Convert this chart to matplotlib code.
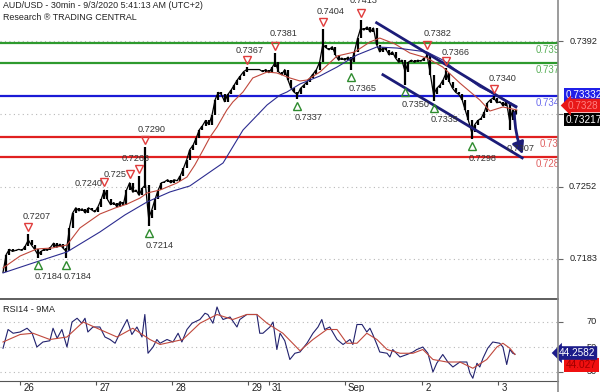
import matplotlib
matplotlib.use('Agg')
import matplotlib.pyplot as plt
from matplotlib.lines import Line2D
from matplotlib.transforms import ScaledTranslation

plt.rcParams['font.family'] = ['Liberation Sans', 'DejaVu Sans']

# hourly closes, AUD/USD (hour 0 = Aug 25 ~18:30)
close = [0.7170, 0.7187, 0.7192, 0.7190, 0.7191, 0.7192, 0.7191, 0.7195, 0.7201, 0.7196,
         0.7192, 0.7187, 0.7190, 0.7192, 0.7191, 0.7194, 0.7198, 0.7194, 0.7197, 0.7193,
         0.7190, 0.7213, 0.7227, 0.7232, 0.7229, 0.7231, 0.7227, 0.7232, 0.7230, 0.7228,
         0.7233, 0.7240, 0.7249, 0.7240, 0.7235, 0.7237, 0.7233, 0.7238, 0.7235, 0.7249,
         0.7256, 0.7247, 0.7249, 0.7244, 0.7251, 0.7254, 0.7222, 0.7230, 0.7240, 0.7249,
         0.7256, 0.7257, 0.7259, 0.7256, 0.7259, 0.7258, 0.7263, 0.7270, 0.7278, 0.7288,
         0.7292, 0.7299, 0.7307, 0.7311, 0.7316, 0.7312, 0.7321, 0.7336, 0.7343, 0.7341,
         0.7334, 0.7341, 0.7345, 0.7350, 0.7355, 0.7359, 0.7363, 0.7365, 0.7365, 0.7365,
         0.7365, 0.7365, 0.7363, 0.7365, 0.7362, 0.7367, 0.7372, 0.7363, 0.7360, 0.7365,
         0.7355, 0.7347, 0.7343, 0.7341, 0.7347, 0.7350, 0.7353, 0.7357, 0.7361, 0.7365,
         0.7372, 0.7389, 0.7386, 0.7384, 0.7387, 0.7379, 0.7374, 0.7376, 0.7374, 0.7377,
         0.7372, 0.7382, 0.7395, 0.7405, 0.7403, 0.7406, 0.7401, 0.7405, 0.7389, 0.7382,
         0.7386, 0.7384, 0.7379, 0.7382, 0.7376, 0.7372, 0.7374, 0.7363, 0.7372, 0.7374,
         0.7372, 0.7374, 0.7373, 0.7376, 0.7378, 0.7360, 0.7341, 0.7347, 0.7350, 0.7355,
         0.7362, 0.7353, 0.7347, 0.7343, 0.7341, 0.7336, 0.7326, 0.7316, 0.7305, 0.7312,
         0.7316, 0.7318, 0.7324, 0.7333, 0.7336, 0.7338, 0.7333, 0.7334, 0.7330, 0.7334,
         0.7316, 0.7326, 0.7322]

peak_h = [8, 32, 40, 43, 45, 77, 86, 101, 113, 134, 140, 155]
peak_v = [0.7207, 0.7240, 0.7253, 0.7263, 0.7290, 0.7367, 0.7381, 0.7404, 0.7413, 0.7382, 0.7366, 0.7340]
peak_txt = ['0.7207', '0.7240', '0.725', '0.7263', '0.7290', '0.7367', '0.7381', '0.7404', '0.7413',
            '0.7382', '0.7366', '0.7340']
trough_h = [11, 20, 46, 93, 110, 127, 136, 148, 160]
trough_v = [0.7184, 0.7184, 0.7214, 0.7337, 0.7365, 0.7350, 0.7335, 0.7298, 0.7307]
trough_txt = ['0.7184', '0.7184', '0.7214', '0.7337', '0.7365', '0.7350', '0.7335', '0.7298', '0.7307']

red_ma_h = [0, 5.4, 10.7, 15.5, 20.2, 24.3, 30.6, 35.4, 39.2, 43.3, 45.5, 49.6, 54.9, 58.1, 60.6,
            63.2, 65.4, 67.6, 70.7, 72.6, 75.8, 78.9, 83.4, 86.5, 90.6, 93.8, 96.0, 100.1, 105.5,
            111.1, 115.9, 119.0, 123.8, 128.5, 133.9, 138.9, 144.3, 150.6, 153.8, 157.9, 162.3]
red_ma_v = [0.71741, 0.71856, 0.71924, 0.71933, 0.71962, 0.72126, 0.72260, 0.72318, 0.72356, 0.72414,
            0.72462, 0.72491, 0.72558, 0.72616, 0.72732, 0.72876, 0.73001, 0.73097, 0.73261, 0.73338,
            0.73434, 0.73569, 0.73626, 0.73617, 0.73569, 0.73540, 0.73549, 0.73626, 0.73780, 0.73819,
            0.73915, 0.73953, 0.73896, 0.73809, 0.73761, 0.73674, 0.73520, 0.73357, 0.73251, 0.73290,
            0.73261]
blue_ma_h = [0, 9.5, 20.2, 30.6, 38.5, 45.5, 52.7, 59.0, 66.3, 69.5, 75.8, 83.4, 87.5, 89.7, 93.8,
             100.1, 105.5, 111.8, 118.1, 124.4, 133.9, 138.9, 144.3, 150.6, 156.9, 162.3]
blue_ma_v = [0.71693, 0.71789, 0.71895, 0.72087, 0.72251, 0.72376, 0.72472, 0.72530, 0.72684, 0.72751,
             0.73068, 0.73309, 0.73405, 0.73434, 0.73511, 0.73588, 0.73674, 0.73790, 0.73867, 0.73857,
             0.73819, 0.73742, 0.73617, 0.73482, 0.73386, 0.73299]

rsi_h = [0, 1.6, 3.2, 5.4, 7.6, 9.2, 10.7, 12.6, 14.8, 15.8, 17.1, 18.6, 20.2, 21.8, 23.4, 24.9, 25.9,
         26.8, 28.4, 30.6, 32.2, 33.8, 35.4, 36.9, 39.2, 40.7, 42.3, 43.9, 44.8, 45.8, 47.4, 48.6,
         49.6, 51.8, 53.7, 55.3, 56.5, 58.1, 59.7, 62.2, 63.8, 64.7, 66.3, 67.6, 68.5, 69.5, 71.7,
         73.9, 74.8, 77.0, 80.2, 81.1, 82.1, 84.3, 85.3, 86.5, 87.5, 89.0, 90.6, 92.2, 93.8, 96.0,
         97.9, 99.5, 100.7, 101.6, 103.2, 105.5, 107.4, 109.6, 110.5, 111.8, 113.4, 114.9, 115.9,
         116.8, 118.1, 119.0, 121.3, 122.2, 123.1, 125.4, 127.6, 129.5, 130.7, 131.7, 132.6, 134.2,
         135.8, 137.0, 138.9, 140.5, 142.1, 144.3, 146.5, 147.5, 148.4, 149.7, 150.6, 151.6, 153.1,
         154.7, 156.9, 157.9, 159.1, 160.1, 161.0, 161.7]
rsi_v = [49, 64, 61, 62, 65, 61, 50, 54, 55, 65, 57, 64, 50, 70, 73, 69, 73,
         62, 66, 66, 58, 56, 53, 61, 72, 60, 66, 58, 76, 45, 50, 56,
         53, 56, 54, 61, 54, 64, 69, 72, 77, 76, 69, 82, 76, 72, 74,
         66, 72, 76, 76, 61, 61, 66, 70, 48, 61, 55, 40, 45, 46, 53,
         61, 66, 72, 64, 66, 56, 52, 56, 52, 68, 68, 62, 65,
         60, 52, 46, 45, 42, 48, 42, 44, 46, 48, 49, 50, 45,
         30, 37, 44, 38, 34, 38, 38, 29, 25, 37, 34, 41, 49,
         54, 53, 50, 36, 48, 45, 44.26]
rsi_ma_h = [0, 5.4, 9.5, 14.8, 20.2, 25.3, 30.6, 36.0, 41.0, 46.4, 49.6, 56.8, 62.2, 67.6, 72.6, 77.0,
            80.2, 83.4, 88.4, 93.8, 97.9, 102.3, 105.5, 108.6, 111.8, 114.9, 118.1, 121.3, 125.4,
            129.5, 132.6, 135.8, 140.2, 144.3, 148.4, 152.8, 156.0, 157.9, 160.1, 161.7]
rsi_ma_v = [54, 60, 61, 56, 58, 70, 64, 58, 65, 56, 52, 56, 69, 76, 72, 76,
            76, 69, 61, 47, 56, 64, 64, 53, 53, 61, 56, 48, 45,
            45, 48, 40, 38, 38, 33, 40, 50, 53, 49, 44.03]

green_levels = [0.7391, 0.7371]
blue_levels = [0.7340]
red_levels = [0.7300, 0.7281]
level_txt = ['0.7391', '0.7371', '0.7340', '0.7300', '0.7281']

chan_up_h, chan_up_v = [118, 162], [0.7410, 0.7329]
chan_lo_h, chan_lo_v = [120, 164], [0.7360, 0.7280]
arrow_h, arrow_v = [161.5, 164.5], [0.7326, 0.7281]

day_ticks = [5.5, 29.5, 53.5, 77.5, 84, 108, 132.5, 156.5]
day_labels = ['26', '27', '28', '29', '31', 'Sep', '2', '3']
price_ticks = [0.7392, 0.7322, 0.7252, 0.7183]
price_tick_shown = [True, False, True, True]   # 0.7322 sits under the price boxes
rsi_ticks = [70, 50, 30]

fig = plt.figure(figsize=(6, 3.92), dpi=100)
ax = fig.add_axes([0, 1 - 298 / 392, 558 / 600, 298 / 392])
ax2 = fig.add_axes([0, 1 - 381 / 392, 558 / 600, 82 / 392])
X0, X1 = -0.95, 175.3

# ---- price panel ----
ax.set_xlim(X0, X1)
ax.set_ylim(0.71452, 0.74319)
for p in green_levels:
    ax.axhline(p, color='#2e9a2e', lw=1.6, zorder=2)
for p in blue_levels:
    ax.axhline(p, color='#1a1ad6', lw=1.6, zorder=2)
for p in red_levels:
    ax.axhline(p, color='#e02020', lw=1.6, zorder=2)

lvl_vals = green_levels + blue_levels + red_levels
lvl_cols = ['#5ab05a', '#5ab05a', '#6a6aee', '#e06060', '#e06060']
lvl_x = [168.3, 168.3, 168.3, 169.6, 168.3]
for v, t, c, xx in zip(lvl_vals, level_txt, lvl_cols, lvl_x):
    tr = ax.transData + ScaledTranslation(0, -7 / 100, fig.dpi_scale_trans)
    ax.text(xx, v, t, color=c, fontsize=7, ha='left', va='center', transform=tr, clip_on=True)

hours = list(range(len(close)))
hi = [close[0]] + [max(close[i - 1], close[i]) for i in hours[1:]]
lo = [close[0]] + [min(close[i - 1], close[i]) for i in hours[1:]]
for h, v in zip(peak_h, peak_v):
    hi[h] = max(hi[h], v)
for h, v in zip(trough_h, trough_v):
    lo[h] = min(lo[h], v)
ax.vlines(hours, lo, hi, color='black', lw=1.6, zorder=4)
ax.plot(hours, close, color='black', lw=0.9, zorder=4)

ax.plot(red_ma_h, red_ma_v, color='#c0483c', lw=0.8, zorder=5)
ax.plot(blue_ma_h, blue_ma_v, color='#2c2c90', lw=0.8, zorder=5)

ax.plot(chan_up_h, chan_up_v, color='#1c1c78', lw=2.0, zorder=6)
ax.plot(chan_lo_h, chan_lo_v, color='#1c1c78', lw=2.0, zorder=6)
ax.annotate('', xy=(arrow_h[1], arrow_v[1]), xytext=(arrow_h[0], arrow_v[0]),
            arrowprops=dict(arrowstyle='-|>,head_length=0.7,head_width=0.35', color='#1c1c78',
                            lw=2.0, connectionstyle='arc3,rad=0.1'), zorder=7)

# peak / trough markers (pixel offsets)
peak_tri = [-7, -17.5, -12, -7, -7, -7, -7, -7, -7, -7, -7, -7]
peak_lbl = [(8, -10), (-16, 2), (-15, 1), (-4, -10), (6, -11), (3, -10), (8, -12), (8, -10),
            (3, -12), (10, -11), (9, -9), (9, -10)]
for h, v, t, dt, (dx, dy) in zip(peak_h, peak_v, peak_txt, peak_tri, peak_lbl):
    tr = ax.transData + ScaledTranslation(0, -dt / 100, fig.dpi_scale_trans)
    ax.plot([h], [v], marker='v', ms=5.5, mfc='none', mec='#e03c3c', mew=1.0, transform=tr,
            zorder=8, clip_on=False)
    tr2 = ax.transData + ScaledTranslation(dx / 100, -(dt + dy) / 100, fig.dpi_scale_trans)
    ax.text(h, v, t, transform=tr2, fontsize=6.6, color='#333333', ha='center', va='center', zorder=9)

trough_mark = [True, True, True, True, True, True, True, True, False]
for h, v, t, m in zip(trough_h, trough_v, trough_txt, trough_mark):
    tr = ax.transData + ScaledTranslation(0, -7 / 100, fig.dpi_scale_trans)
    if m:
        ax.plot([h], [v], marker='^', ms=5.5, mfc='none', mec='#2e8b2e', mew=1.0, transform=tr, zorder=8)
    tr2 = ax.transData + ScaledTranslation(11 / 100, -19 / 100, fig.dpi_scale_trans)
    ax.text(h, v, t, transform=tr2, fontsize=6.6, color='#333333', ha='center', va='center', zorder=9)

ax.set_xticks([])
ax.set_yticks(price_ticks)
ax.yaxis.tick_right()
ax.tick_params(axis='y', right=True, left=False, labelright=False, labelleft=False,
               length=3.6, color='#666666')
ax.grid(axis='y', color='#b8b8b8', linestyle=(0, (1, 3)), lw=0.8)
yt = ax.get_yaxis_transform()
for p, shown in zip(price_ticks, price_tick_shown):
    if shown:
        ax.text(597 / 558, p, f'{p:.4f}', transform=yt, ha='right', va='center', fontsize=6.6,
                color='#222222', clip_on=False)
for s in ['top', 'left', 'bottom', 'right']:
    ax.spines[s].set_visible(False)

ax.text(566 / 558, 0.73405, '0.73332', transform=yt, ha='left', va='center', fontsize=7.2,
        color='white', clip_on=False, zorder=10,
        bbox=dict(boxstyle='square,pad=0.18', fc='#2020e8', ec='none'))
ax.text(568 / 558, 0.73304, '0.7328', transform=yt, ha='left', va='center', fontsize=7.2,
        color='#ff8080', clip_on=False, zorder=11,
        bbox=dict(boxstyle='larrow,pad=0.18', fc='#e81818', ec='none'))
ax.text(566 / 558, 0.73169, '0.73217', transform=yt, ha='left', va='center', fontsize=7.2,
        color='white', clip_on=False, zorder=10,
        bbox=dict(boxstyle='square,pad=0.18', fc='black', ec='none'))

# ---- RSI panel ----
ax2.set_xlim(X0, X1)
ax2.set_ylim(22.8, 88.4)
ax2.plot(rsi_h, rsi_v, color='#22226e', lw=0.8)
ax2.plot(rsi_ma_h, rsi_ma_v, color='#c0483c', lw=0.8)
ax2.set_yticks(rsi_ticks)
ax2.tick_params(axis='y', right=True, left=False, labelright=False, labelleft=False,
                length=3.6, color='#666666')
ax2.grid(axis='y', color='#b8b8b8', linestyle=(0, (1, 3)), lw=0.8)
yt2 = ax2.get_yaxis_transform()
for r in rsi_ticks:
    ax2.text(597 / 558, r, str(r), transform=yt2, ha='right', va='center', fontsize=6.6,
             color='#222222', clip_on=False)
ax2.set_xticks(day_ticks)
ax2.set_xticklabels([])
ax2.tick_params(axis='x', length=3, color='#555555', direction='out')
xt = ax2.get_xaxis_transform()
for d, lab in zip(day_ticks, day_labels):
    ax2.text(d + 0.9, -0.02, lab, transform=xt, ha='left', va='top', fontsize=7, color='#222222',
             clip_on=False)
ax2.spines['left'].set_visible(False)
ax2.spines['right'].set_visible(False)
ax2.spines['top'].set_color('#333333')
ax2.spines['top'].set_linewidth(1.1)
ax2.spines['bottom'].set_color('#555555')
ax2.text(0.005, 0.93, 'RSI14 - 9MA', transform=ax2.transAxes, fontsize=6.6, color='#222222',
         ha='left', va='top')
ax2.text(559 / 558, 45.2, '44.2582', transform=yt2, ha='left', va='center', fontsize=7.2,
         color='white', clip_on=False, zorder=11,
         bbox=dict(boxstyle='larrow,pad=0.18', fc='#1c1c8a', ec='none'))
ax2.text(566 / 558, 35.6, '44.027', transform=yt2, ha='left', va='center', fontsize=7.2,
         color='#a00000', clip_on=False, zorder=10,
         bbox=dict(boxstyle='square,pad=0.18', fc='#f01010', ec='none'))

fig.add_artist(Line2D([558 / 600, 558 / 600], [0, 1], color='#8a8a8a', lw=1.2))

fig.text(3 / 600, 1 - 6 / 392, 'AUD/USD - 30min - 9/3/2020 5:41:13 AM (UTC+2)', fontsize=6.4,
         color='#222222', ha='left', va='center')
fig.text(3 / 600, 1 - 17 / 392, 'Research \u00ae TRADING CENTRAL', fontsize=6.4,
         color='#222222', ha='left', va='center')

fig.savefig('out.png', dpi=100)
